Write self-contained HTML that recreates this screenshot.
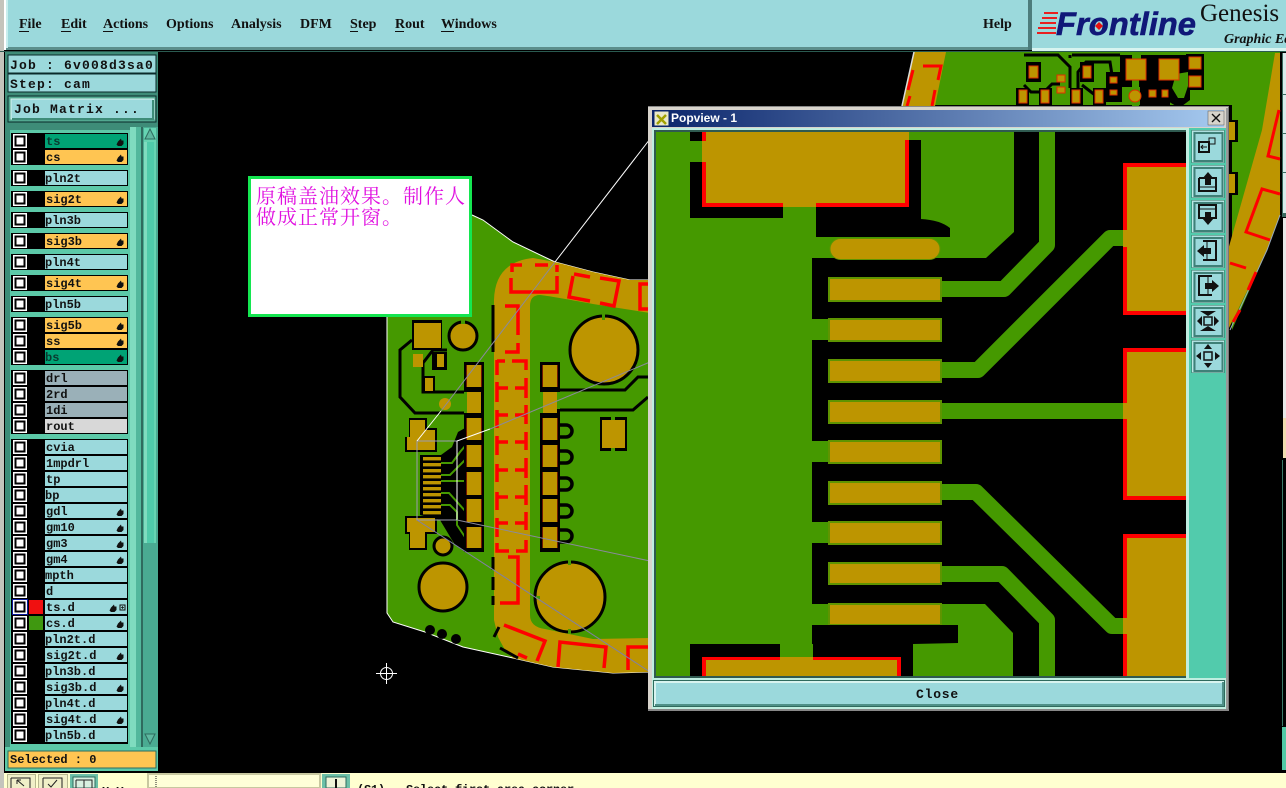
<!DOCTYPE html>
<html><head><meta charset="utf-8"><title>Genesis Popview</title>
<style>
html,body{margin:0;padding:0;background:#000;width:1286px;height:788px;overflow:hidden}
svg{display:block}
.m{font:bold 14px "Liberation Serif",serif;fill:#111}
.l{font:bold 12px "Liberation Mono",monospace;fill:#111;letter-spacing:.0px}
.j{font:bold 13px "Liberation Mono",monospace;fill:#111;letter-spacing:1.2px}
.n{font:20px "Noto Serif CJK SC","WenQuanYi Zen Hei",serif;fill:#e010e0;letter-spacing:1px}
</style></head><body>
<svg xmlns="http://www.w3.org/2000/svg" width="1286" height="788" viewBox="0 0 1286 788">
<defs>
<g id="cb"><rect x="-7" y="-7" width="14" height="14" fill="#fff"/><rect x="-4.5" y="-4.5" width="9" height="9" fill="none" stroke="#000" stroke-width="2"/></g>
<path id="h" d="M-3.5 2.5L-2 -.5L1 -3.5L1.5 -1.5L3.5 -1.5L3.5 2L1.5 4L-2 4Z" fill="#111"/>
<linearGradient id="tg" x1="0" x2="1" y1="0" y2="0"><stop offset="0" stop-color="#0a246a"/><stop offset="1" stop-color="#a6caf0"/></linearGradient>
<g id="tb"><rect x="0" y="0" width="33" height="33" fill="#2f6b5e"/><rect x="1" y="1" width="31" height="31" fill="#9bd9dc" stroke="#bfe8e4" stroke-width="1"/><rect x="3" y="3" width="28" height="28" fill="none" stroke="#3f8078" stroke-width="2"/></g>
</defs>
<rect width="1286" height="788" fill="#000"/>

<!-- Main board, left section -->
<path d="M387 300L387 613L393 622L425 632L463 647L513 658L553 667L613 673L660 672L660 280L630 280L593 272L555 262L513 242L483 220L473 215L440 200Z" fill="#459900"/>
<path d="M387 317L387 613L393 622L425 632L463 647L513 658L553 667L613 673L650 672" fill="none" stroke="#fff"/>
<path d="M472 215L483 220L513 242L555 262L593 272L630 280L650 280" fill="none" stroke="#fff"/>
<!-- gold strip -->
<path d="M494 640L494 300Q495 262 533 258L555 262L593 272L630 280L650 280L650 313L593 304Q550 296 540 295Q530 295 530 306L530 615Q530 627 545 629L593 639L650 638L650 672L613 673L553 667L513 658L505 650L498 637L494 620Z" fill="#bd9500"/>
<g fill="none" stroke="#f00" stroke-width="3.5">
<path d="M511 278V292H557V276M557 272V265M548 265H535M522 265H512V272"/>
<path d="M573 276L569 297L590 301M600 303L614 306L619 281L600 278M590 277L574 274"/>
<path d="M648 284H640V309H648"/>
<path d="M505 306H518V335M518 343V352H505M494 352"/>
<path d="M497 360V375M497 382V402M497 410V428M497 436V455M497 464V482M497 492V510M497 518V537M497 543V551H509M516 551H526V540M526 530V512M526 505V485M526 478V458M526 450V432M526 424V405M526 398V378M526 370V361H512M505 361H497"/>
<path d="M497 388H508M515 388H526M497 415H508M515 415H526M497 442H508M515 442H526M497 470H508M515 470H526M497 497H508M515 497H526M497 523H508M515 523H526"/>
<path d="M508 557H518V603H500"/>
<path d="M504 625L545 641L537 661M518 654L527 658"/>
<path d="M558 667L560 642L606 647L604 668"/>
<path d="M648 647H628V670"/>
</g>
<g fill="none" stroke="#000" stroke-width="3">
<path d="M493 305V352M493 557V570M493 577V590M493 596V605"/>
<path d="M499 627L494 637M500 648L518 658"/>
<path d="M412 340L400 350V397L415 413H467"/>
<path d="M447 350H433L423 363V392H467"/>
<path d="M557 390H625L638 377H648M557 410H633L648 397"/>
</g>
<!-- circles -->
<g stroke="#000" stroke-width="3">
<circle cx="604" cy="350" r="34" fill="#bd9500"/>
<circle cx="570" cy="597" r="35" fill="#bd9500"/>
<circle cx="443" cy="587" r="24" fill="#bd9500"/>
<circle cx="463" cy="336" r="14" fill="#bd9500"/>
<circle cx="443" cy="546" r="9" fill="#bd9500"/>
</g>
<g fill="#459900"><rect x="602" y="314" width="3" height="6"/><rect x="568" y="560" width="3" height="5"/><rect x="568" y="629" width="3" height="5"/><rect x="461" y="320" width="4" height="4"/><rect x="536" y="596" width="4" height="3"/></g>
<circle cx="445" cy="404" r="6" fill="#bd9500"/>
<!-- small pads -->
<rect x="412" y="320" width="30" height="30" fill="#000"/><rect x="414" y="323" width="27" height="25" fill="#bd9500"/>
<rect x="413" y="354" width="10" height="13" fill="#bd9500"/>
<rect x="432" y="352" width="15" height="18" fill="#000"/><rect x="437" y="354" width="7" height="13" fill="#bd9500"/>
<rect x="423" y="376" width="12" height="17" fill="#000"/><rect x="425" y="378" width="8" height="13" fill="#bd9500"/>
<rect x="600" y="417" width="27" height="34" fill="#000"/><rect x="602" y="420" width="23" height="28" fill="#bd9500"/>
<rect x="611" y="417" width="4" height="3" fill="#459900"/><rect x="611" y="448" width="4" height="3" fill="#459900"/>
<!-- connector area black -->
<path d="M420 455H441L452 447L458 432L465 428V552L455 545L440 520L420 515Z" fill="#000"/>
<g fill="none" stroke="#459900" stroke-width="2"><path d="M441 463H452L460 452L466 445M441 475H450L467 458M441 481H467M441 493H449L467 513M441 505H450L457 512V525L467 540"/></g>
<g fill="#bd9500"><rect x="423" y="457" width="18" height="3.4"/><rect x="423" y="463" width="18" height="3.4"/><rect x="423" y="469" width="18" height="3.4"/><rect x="423" y="475" width="18" height="3.4"/><rect x="423" y="481" width="18" height="3.4"/><rect x="423" y="487" width="18" height="3.4"/><rect x="423" y="493" width="18" height="3.4"/><rect x="423" y="499" width="18" height="3.4"/><rect x="423" y="505" width="18" height="3.4"/><rect x="423" y="511" width="18" height="3.4"/></g>
<path d="M409 418H427V428H437V452H405V437H409Z" fill="#000"/>
<path d="M405 516H437V534H427V550H409V534H405Z" fill="#000"/>
<path d="M410 420H425V430H435V450H407V437H410Z" fill="#bd9500"/>
<path d="M407 518H435V532H425V548H410V532H407Z" fill="#bd9500"/>
<!-- pad stacks -->
<rect x="464" y="362" width="20" height="190" fill="#000"/>
<rect x="540" y="362" width="20" height="190" fill="#000"/>
<g fill="#459900"><rect x="464" y="392" width="3" height="21"/><rect x="540" y="392" width="3" height="21"/><rect x="557" y="392" width="3" height="17"/></g>
<g fill="#e03000">
<rect x="466.500" y="365" width="15" height="22"/><rect x="466.500" y="418" width="15" height="22"/><rect x="466.500" y="445" width="15" height="22"/><rect x="466.500" y="472" width="15" height="23"/><rect x="466.500" y="499" width="15" height="23"/><rect x="466.500" y="527" width="15" height="21"/>
<rect x="542.500" y="365" width="15" height="22"/><rect x="542.500" y="418" width="15" height="22"/><rect x="542.500" y="445" width="15" height="22"/><rect x="542.500" y="472" width="15" height="23"/><rect x="542.500" y="499" width="15" height="23"/><rect x="542.500" y="527" width="15" height="21"/>
</g>
<g fill="#bd9500">
<rect x="467" y="365" width="14" height="22"/><rect x="467" y="392" width="14" height="21"/><rect x="467" y="418" width="14" height="22"/><rect x="467" y="445" width="14" height="22"/><rect x="467" y="472" width="14" height="23"/><rect x="467" y="499" width="14" height="23"/><rect x="467" y="527" width="14" height="21"/>
<rect x="543" y="365" width="14" height="22"/><rect x="543" y="392" width="14" height="21"/><rect x="543" y="418" width="14" height="22"/><rect x="543" y="445" width="14" height="22"/><rect x="543" y="472" width="14" height="23"/><rect x="543" y="499" width="14" height="23"/><rect x="543" y="527" width="14" height="21"/>
</g>
<g fill="none" stroke="#000" stroke-width="3.5"><path d="M558 425H566A6 6 0 0 1 566 437H558M558 451H566A6 6 0 0 1 566 463H558M558 478H566A6 6 0 0 1 566 490H558M558 505H566A6 6 0 0 1 566 517H558M558 530H566A6 6 0 0 1 566 542H558"/></g>
<g fill="#000"><circle cx="430" cy="630" r="5"/><circle cx="442" cy="634" r="5"/><circle cx="456" cy="639" r="5"/></g>
<!-- zoom lines -->
<g fill="none" stroke-width="1">
<path d="M417 441H457V520H417Z" stroke="#9a9ab0"/>
<path d="M457 441V520" stroke="#fff"/>
<path d="M417 441L441 411" stroke="#fff"/>
<path d="M441 411L555 262" stroke="#8a8a9c"/>
<path d="M555 262L650 139" stroke="#fff"/>
<path d="M457 441L490 429" stroke="#fff"/>
<path d="M490 429L650 362" stroke="#8a8a9c"/>
<path d="M417 520L650 672" stroke="#8080a4"/>
<path d="M457 520L650 561" stroke="#8a8a9c"/>
</g>
<!-- crosshair -->
<g fill="none" stroke="#fff"><circle cx="386.500" cy="673.500" r="6"/><path d="M376 673.500H397M386.500 663V684"/></g>

<!-- Board, top right -->
<path d="M914 52L902 105H1232L1232 330L1267 250L1280 215L1280 52Z" fill="#459900"/>
<path d="M914 52H946L935 106H902Z" fill="#bd9500"/>
<path d="M1275 53L1262 130L1245 190L1228 250V330L1267 250L1280 215V53Z" fill="#bd9500"/>
<path d="M914 52L902 106" fill="none" stroke="#ddd" stroke-width="1.500"/>
<path d="M1280 215L1267 250L1230 330" fill="none" stroke="#9ab" stroke-width="1"/>
<g fill="none" stroke="#f00" stroke-width="3">
<path d="M923 66H941L938 80M935 90L932 106M913 70L908 90M910 96L907 106"/>
<path d="M1279 110L1273 135L1268 156L1280 159"/>
<path d="M1280 194L1262 189L1246 232L1270 240"/>
<path d="M1230 263L1246 268M1256 272L1248 290M1240 310L1233 322"/>
</g>
<g fill="none" stroke="#000" stroke-width="3">
<path d="M1024 55H1058L1070 67V88M1070 55V58M1024 85L1031 92H1044L1052 84H1060M1078 88V72L1086 62H1110L1112 75M1082 85L1095 95M1072 55H1120"/>
</g>
<g fill="#000"><rect x="1016" y="88" width="13" height="17"/><rect x="1039" y="88" width="13" height="17"/><rect x="1070" y="88" width="13" height="17"/><rect x="1093" y="88" width="13" height="17"/><rect x="1026" y="62" width="15" height="20"/><rect x="1080" y="62" width="14" height="20"/></g>
<rect x="1120" y="55" width="67" height="32" fill="#000"/>
<rect x="1106" y="72" width="16" height="30" fill="#000"/>
<rect x="1140" y="85" width="30" height="20" fill="#000"/>
<path d="M1186 54H1204V90H1190V100L1182 106H1176L1166 100V84H1178V62H1186Z" fill="#000"/>
<path d="M1176 74L1188 72V86L1184 98H1178L1172 88Z" fill="#459900"/>
<rect x="1132" y="53" width="9" height="7" fill="#459900"/><rect x="1132" y="80" width="7" height="26" fill="#459900"/>
<g fill="#bd9500" stroke="#e03000" stroke-width="1">
<rect x="1126" y="59" width="20" height="21"/><rect x="1159" y="59" width="20" height="21"/><rect x="1189" y="57" width="12" height="12"/><rect x="1189" y="76" width="12" height="11"/>
<rect x="1029" y="66" width="9" height="12"/><rect x="1083" y="66" width="8" height="12"/><rect x="1057" y="75" width="8" height="7"/><rect x="1057" y="87" width="8" height="6"/><rect x="1110" y="77" width="7" height="6"/><rect x="1110" y="90" width="7" height="5"/>
<rect x="1019" y="90" width="8" height="13"/><rect x="1041" y="90" width="8" height="13"/><rect x="1072" y="90" width="8" height="13"/><rect x="1095" y="90" width="8" height="13"/>
<circle cx="1135" cy="96" r="6"/><rect x="1149" y="90" width="7" height="7"/><rect x="1162" y="90" width="6" height="7"/>
</g>
<path d="M1228 120H1238V142H1228ZM1228 172H1238V195H1228Z" fill="#000"/>
<path d="M1228 122H1235V140H1228ZM1228 174H1235V193H1228Z" fill="#bd9500"/>

<!-- Annotation -->
<rect x="249.500" y="177.500" width="221" height="138" fill="#fff" stroke="#14e650" stroke-width="3"/>
<text class="n" x="256" y="203">原稿盖油效果。制作人</text>
<text class="n" x="256" y="224">做成正常开窗。</text>

<!-- Top bars -->
<rect x="0" y="0" width="4" height="788" fill="#c4c4bc"/>
<rect x="4" y="0" width="2" height="50" fill="#fff"/>
<rect x="6" y="0" width="1022" height="49" fill="#9bd9dc"/>
<rect x="6" y="47" width="1022" height="3" fill="#5c8f8c"/>
<rect x="6" y="0" width="2" height="48" fill="#c8eeee"/>
<rect x="1028" y="0" width="4" height="50" fill="#4c7c7c"/>
<rect x="1032" y="0" width="254" height="50" fill="#9bd9dc"/>
<rect x="1032" y="48" width="254" height="3" fill="#d8f4f0"/>
<rect x="0" y="51" width="1286" height="1" fill="#2a5a50"/>
<text class="m" x="19" y="28">File</text><rect x="19" y="31" width="10" height="1" fill="#111"/>
<text class="m" x="61" y="28">Edit</text><rect x="61" y="31" width="10" height="1" fill="#111"/>
<text class="m" x="103" y="28">Actions</text><rect x="103" y="31" width="10" height="1" fill="#111"/>
<text class="m" x="166" y="28">Options</text>
<text class="m" x="231" y="28">Analysis</text>
<text class="m" x="300" y="28">DFM</text>
<text class="m" x="350" y="28">Step</text><rect x="350" y="31" width="8" height="1" fill="#111"/>
<text class="m" x="395" y="28">Rout</text><rect x="395" y="31" width="9" height="1" fill="#111"/>
<text class="m" x="441" y="28">Windows</text><rect x="441" y="31" width="13" height="1" fill="#111"/>
<text class="m" x="983" y="28">Help</text>
<!-- Logo -->
<g fill="#e82020"><rect x="1044" y="12" width="14" height="2"/><rect x="1042" y="17" width="15" height="2"/><rect x="1040" y="22" width="16" height="2"/><rect x="1038" y="27" width="18" height="2"/><rect x="1037" y="32" width="19" height="2"/></g>
<text x="1056" y="35" font-family="Liberation Sans,sans-serif" font-weight="bold" font-style="italic" font-size="32" fill="#101878" stroke="#101878" stroke-width=".6" textLength="140" lengthAdjust="spacingAndGlyphs">Frontline</text>
<path d="M1099 22L1103 26L1099 30L1095 26Z" fill="#e81010"/>
<text x="1200" y="21" font-family="Liberation Serif,serif" font-size="25" fill="#111">Genesis</text>
<text x="1224" y="43" font-family="Liberation Serif,serif" font-weight="bold" font-style="italic" font-size="14" fill="#111">Graphic Ed</text>

<!-- Right edge -->
<rect x="1282" y="53" width="4" height="164" fill="#d8ecec"/>
<g fill="#3a6a60"><rect x="1282" y="53" width="1" height="164"/><rect x="1282" y="94" width="4" height="1"/><rect x="1282" y="133" width="4" height="1"/><rect x="1282" y="172" width="4" height="1"/><rect x="1282" y="213" width="4" height="4"/></g>
<rect x="1283" y="218" width="3" height="200" fill="#e8e8e8"/>
<rect x="1283" y="418" width="3" height="40" fill="#f0dcb0"/>
<rect x="1282" y="460" width="4" height="266" fill="#000"/><rect x="1282" y="460" width="1" height="266" fill="#3a7a68"/>
<rect x="1282" y="727" width="4" height="43" fill="#52c8a5"/>

<!-- Left panel -->
<rect x="5" y="52" width="153" height="719" fill="#3e8c78"/>
<rect x="8" y="55" width="148" height="18" fill="#9bd9dc" stroke="#0a2a2a"/>
<rect x="8" y="74" width="148" height="18" fill="#9bd9dc" stroke="#0a2a2a"/>
<text class="j" x="10" y="69">Job : 6v008d3sa0</text>
<text class="j" x="10" y="88">Step: cam</text>
<rect x="8" y="96" width="148" height="26" fill="#52a890" stroke="#0a2a2a"/>
<rect x="11" y="99" width="143" height="20" fill="#9bd9dc" stroke="#d8f4f0"/>
<rect x="152" y="100" width="2" height="19" fill="#3e8c78"/><rect x="12" y="118" width="142" height="2" fill="#3e8c78"/>
<text class="j" x="14" y="113">Job Matrix ...</text>
<!-- List bg -->
<rect x="5" y="126" width="153" height="622" fill="#3e8c78"/>
<rect x="10" y="130" width="120" height="617" fill="#5cc9a8"/>
<rect x="130" y="127" width="6" height="621" fill="#7fdcbf"/>
<rect x="136" y="127" width="5" height="621" fill="#52b89c"/>
<rect x="141" y="127" width="2" height="621" fill="#2f6b5e"/>
<rect x="143" y="127" width="15" height="621" fill="#4aab92"/>
<rect x="144" y="128" width="12" height="415" fill="#66d4b2"/>
<rect x="147" y="142" width="7" height="401" fill="#4fcbaa"/>
<rect x="144" y="142" width="3" height="401" fill="#7fdcbf"/>
<path d="M145 139L150 129L155 139Z" fill="#5fb8a0" stroke="#2f6b5e"/>
<path d="M145 734L150 744L155 734Z" fill="#5fb8a0" stroke="#2f6b5e"/>
<!-- groups -->
<g fill="#000">
<rect x="11" y="133" width="117" height="32"/><rect x="11" y="170" width="117" height="16"/><rect x="11" y="191" width="117" height="16"/><rect x="11" y="212" width="117" height="16"/><rect x="11" y="233" width="117" height="16"/><rect x="11" y="254" width="117" height="16"/><rect x="11" y="275" width="117" height="16"/><rect x="11" y="296" width="117" height="16"/><rect x="11" y="317" width="117" height="48"/><rect x="11" y="370" width="117" height="64"/><rect x="11" y="439" width="117" height="305"/>
</g>
<!-- labels backgrounds -->
<g fill="#9bd9dc">
<rect x="45" y="171" width="82" height="14"/><rect x="45" y="213" width="82" height="14"/><rect x="45" y="255" width="82" height="14"/><rect x="45" y="297" width="82" height="14"/>
<rect x="45" y="440" width="82" height="14"/><rect x="45" y="456" width="82" height="14"/><rect x="45" y="472" width="82" height="14"/><rect x="45" y="488" width="82" height="14"/><rect x="45" y="504" width="82" height="14"/><rect x="45" y="520" width="82" height="14"/><rect x="45" y="536" width="82" height="14"/><rect x="45" y="552" width="82" height="14"/><rect x="45" y="568" width="82" height="14"/><rect x="45" y="584" width="82" height="14"/><rect x="45" y="600" width="82" height="14"/><rect x="45" y="616" width="82" height="14"/><rect x="45" y="632" width="82" height="14"/><rect x="45" y="648" width="82" height="14"/><rect x="45" y="664" width="82" height="14"/><rect x="45" y="680" width="82" height="14"/><rect x="45" y="696" width="82" height="14"/><rect x="45" y="712" width="82" height="14"/><rect x="45" y="728" width="82" height="14"/>
</g>
<g fill="#ffc552">
<rect x="45" y="150" width="82" height="14"/><rect x="45" y="192" width="82" height="14"/><rect x="45" y="234" width="82" height="14"/><rect x="45" y="276" width="82" height="14"/><rect x="45" y="318" width="82" height="14"/><rect x="45" y="334" width="82" height="14"/>
</g>
<g fill="#00a375"><rect x="45" y="134" width="82" height="14"/><rect x="45" y="350" width="82" height="14"/></g>
<g fill="#9ab0b8"><rect x="45" y="371" width="82" height="14"/><rect x="45" y="387" width="82" height="14"/><rect x="45" y="403" width="82" height="14"/></g>
<rect x="45" y="419" width="82" height="14" fill="#d8d8d8"/>
<rect x="29" y="600" width="14" height="14" fill="#f01010"/><rect x="29" y="616" width="14" height="14" fill="#3f9810"/>
<rect x="12" y="599" width="16" height="16" fill="#0a1a9a"/>
<!-- checkboxes -->
<use href="#cb" x="20" y="141"/><use href="#cb" x="20" y="157"/><use href="#cb" x="20" y="178"/><use href="#cb" x="20" y="199"/><use href="#cb" x="20" y="220"/><use href="#cb" x="20" y="241"/><use href="#cb" x="20" y="262"/><use href="#cb" x="20" y="283"/><use href="#cb" x="20" y="304"/><use href="#cb" x="20" y="325"/><use href="#cb" x="20" y="341"/><use href="#cb" x="20" y="357"/><use href="#cb" x="20" y="378"/><use href="#cb" x="20" y="394"/><use href="#cb" x="20" y="410"/><use href="#cb" x="20" y="426"/><use href="#cb" x="20" y="447"/><use href="#cb" x="20" y="463"/><use href="#cb" x="20" y="479"/><use href="#cb" x="20" y="495"/><use href="#cb" x="20" y="511"/><use href="#cb" x="20" y="527"/><use href="#cb" x="20" y="543"/><use href="#cb" x="20" y="559"/><use href="#cb" x="20" y="575"/><use href="#cb" x="20" y="591"/><use href="#cb" x="20" y="607"/><use href="#cb" x="20" y="623"/><use href="#cb" x="20" y="639"/><use href="#cb" x="20" y="655"/><use href="#cb" x="20" y="671"/><use href="#cb" x="20" y="687"/><use href="#cb" x="20" y="703"/><use href="#cb" x="20" y="719"/><use href="#cb" x="20" y="735"/>
<!-- hand icons -->
<use href="#h" x="120" y="142"/><use href="#h" x="120" y="158"/><use href="#h" x="120" y="200"/><use href="#h" x="120" y="242"/><use href="#h" x="120" y="284"/><use href="#h" x="120" y="326"/><use href="#h" x="120" y="342"/><use href="#h" x="120" y="358"/><use href="#h" x="120" y="512"/><use href="#h" x="120" y="528"/><use href="#h" x="120" y="544"/><use href="#h" x="120" y="560"/><use href="#h" x="113" y="608"/><use href="#h" x="120" y="624"/><use href="#h" x="120" y="656"/><use href="#h" x="120" y="688"/><use href="#h" x="120" y="720"/>
<rect x="120" y="605" width="5" height="5" fill="none" stroke="#111"/><path d="M122.500 606V609M121 607.500H124" stroke="#111" stroke-width=".7"/>
<!-- labels -->
<text class="l" x="46" y="145" style="fill:#0a3a30">ts</text><text class="l" x="46" y="161">cs</text><text class="l" x="45" y="182">pln2t</text><text class="l" x="46" y="203">sig2t</text><text class="l" x="45" y="224">pln3b</text><text class="l" x="46" y="245">sig3b</text><text class="l" x="45" y="266">pln4t</text><text class="l" x="46" y="287">sig4t</text><text class="l" x="45" y="308">pln5b</text><text class="l" x="46" y="329">sig5b</text><text class="l" x="46" y="345">ss</text><text class="l" x="45" y="361" style="fill:#0a3a30">bs</text><text class="l" x="46" y="382">drl</text><text class="l" x="46" y="398">2rd</text><text class="l" x="46" y="414">1di</text><text class="l" x="46" y="430">rout</text><text class="l" x="46" y="451">cvia</text><text class="l" x="46" y="467">1mpdrl</text><text class="l" x="46" y="483">tp</text><text class="l" x="45" y="499">bp</text><text class="l" x="46" y="515">gdl</text><text class="l" x="46" y="531">gm10</text><text class="l" x="46" y="547">gm3</text><text class="l" x="46" y="563">gm4</text><text class="l" x="45" y="579">mpth</text><text class="l" x="46" y="595">d</text><text class="l" x="46" y="611">ts.d</text><text class="l" x="46" y="627">cs.d</text><text class="l" x="45" y="643">pln2t.d</text><text class="l" x="46" y="659">sig2t.d</text><text class="l" x="45" y="675">pln3b.d</text><text class="l" x="46" y="691">sig3b.d</text><text class="l" x="45" y="707">pln4t.d</text><text class="l" x="46" y="723">sig4t.d</text><text class="l" x="45" y="739">pln5b.d</text>
<!-- Selected -->
<rect x="5" y="747" width="153" height="24" fill="#5cc9a8"/>
<rect x="8" y="751" width="148" height="17" fill="#ffc552" stroke="#2f6b5e"/>
<text class="l" x="10" y="763" style="font-size:12px">Selected : 0</text>

<!-- Bottom bar -->
<rect x="0" y="773" width="1286" height="15" fill="#ffffd0"/>
<rect x="0" y="773" width="4" height="15" fill="#c4c4bc"/>
<g fill="#f0efc8" stroke="#b8b890"><rect x="7.500" y="774.500" width="28" height="14"/><rect x="38.500" y="774.500" width="29" height="14"/></g>
<rect x="70" y="774" width="28" height="14" fill="#6cc0a8"/><rect x="73" y="777" width="22" height="11" fill="#d8f0e0" stroke="#2f6b5e"/>
<path d="M11 778H30V788M11 778V788" fill="none" stroke="#222"/><path d="M17 780L24 786M17 780H21M17 780V784" stroke="#222" fill="none"/>
<path d="M43 778H62V788M43 778V788M48 784L51 787L57 780" fill="none" stroke="#222"/>
<path d="M76 780H92V788M76 780V788M84 780V788" fill="none" stroke="#222"/>
<text x="102" y="795" font-family="Liberation Mono,monospace" font-weight="bold" font-size="12" fill="#111">X,Y :</text>
<rect x="148" y="774" width="172" height="14" fill="#ffffd8" stroke="#c8c8a0" stroke-width="2"/>
<path d="M156 776V788" stroke="#222" stroke-dasharray="1 1"/>
<rect x="322" y="774" width="28" height="14" fill="#6cc0a8"/><rect x="326" y="777" width="20" height="11" fill="#eef4d8" stroke="#2f6b5e"/>
<path d="M336 779V788" stroke="#111" stroke-width="2"/>
<text x="357" y="793" font-family="Liberation Mono,monospace" font-weight="bold" font-size="12" fill="#111" letter-spacing="-.2">(S1) - Select first area corner</text>

<!-- Popview window -->
<rect x="648" y="106" width="581" height="605" fill="#d8d4cc"/>
<rect x="648" y="106" width="581" height="1" fill="#888"/>
<rect x="1228" y="106" width="1" height="605" fill="#777"/><rect x="1226" y="108" width="2" height="603" fill="#999"/>
<rect x="648" y="709" width="581" height="2" fill="#888"/>
<rect x="652" y="110" width="572" height="17" fill="url(#tg)"/>
<rect x="654" y="111" width="15" height="15" fill="#e8e8c8" stroke="#0a246a"/>
<path d="M657 115L666 124M666 115L657 124" stroke="#a0a000" stroke-width="2.500"/>
<text x="671" y="122" font-family="Liberation Sans,sans-serif" font-weight="bold" font-size="12" fill="#fff">Popview - 1</text>
<rect x="1208" y="111" width="16" height="14" fill="#d8d4cc" stroke="#555" stroke-width=".5"/>
<path d="M1212 114L1220 122M1220 114L1212 122" stroke="#111" stroke-width="1.400"/>
<rect x="652" y="128" width="574" height="580" fill="#5cc9a8"/>
<rect x="652" y="128" width="537" height="552" fill="#bfeee0"/>
<rect x="654" y="130" width="534" height="548" fill="#2f5a50"/>
<!-- Canvas -->
<svg x="656" y="132" width="530" height="544" viewBox="656 132 530 544">
<rect x="656" y="132" width="530" height="544" fill="#000"/>
<rect x="656" y="132" width="156" height="544" fill="#459900"/>
<rect x="812" y="132" width="110" height="108" fill="#459900"/>
<rect x="690" y="132" width="231" height="86" fill="#000"/>
<rect x="690" y="141" width="14" height="21" fill="#459900"/>
<rect x="905" y="132" width="20" height="8" fill="#459900"/>
<path d="M816 207H921V219Q940 220 950 228V238H816Z" fill="#000"/>
<rect x="783" y="207" width="33" height="32" fill="#459900"/>
<path d="M921 132H1014V232L986 258H812V237H950V228Q940 220 921 219Z" fill="#459900"/>
<!-- top pad -->
<rect x="702" y="132" width="207" height="75" fill="#f00"/>
<rect x="706" y="132" width="199" height="71" fill="#bd9500"/>
<rect x="702" y="141" width="4" height="21" fill="#bd9500"/>
<rect x="783" y="203" width="33" height="4" fill="#bd9500"/>
<rect x="905" y="132" width="4" height="8" fill="#bd9500"/>
<!-- oval -->
<rect x="830" y="238.500" width="110" height="21" rx="10.500" fill="#bd9500" stroke="#5f9400"/>
<!-- traces -->
<g fill="none" stroke="#459900" stroke-width="16" stroke-linejoin="round">
<path d="M935 289H1004L1047 245V130"/>
<path d="M935 370H978L1110 238H1130"/>
<path d="M935 411H1130"/>
<path d="M935 492H976L1112 626H1130"/>
<path d="M935 574H1002L1047 620V680"/>
</g>
<path d="M935 604H985L1013 633V676H913V644L958 643V625H935Z" fill="#459900"/>
<!-- stubs -->
<g fill="#459900"><rect x="812" y="319" width="20" height="21"/><rect x="812" y="441" width="20" height="21"/><rect x="812" y="522" width="20" height="21"/><rect x="812" y="604" width="20" height="21"/></g>
<!-- fingers -->
<g fill="#bd9500" stroke="#5f9400" stroke-width="2">
<rect x="829" y="278" width="112" height="23"/><rect x="829" y="319" width="112" height="22"/><rect x="829" y="360" width="112" height="22"/><rect x="829" y="401" width="112" height="22"/><rect x="829" y="441" width="112" height="22"/><rect x="829" y="482" width="112" height="22"/><rect x="829" y="522" width="112" height="22"/><rect x="829" y="563" width="112" height="21"/><rect x="829" y="604" width="112" height="21"/>
</g>
<!-- bottom -->
<rect x="690" y="644" width="90" height="32" fill="#000"/>
<rect x="813" y="625" width="100" height="51" fill="#000"/>
<rect x="813" y="625" width="145" height="18" fill="#000"/>
<rect x="780" y="644" width="33" height="32" fill="#459900"/>
<rect x="702" y="657" width="199" height="19" fill="#f00"/>
<rect x="706" y="660" width="191" height="16" fill="#bd9500"/>
<rect x="780" y="657" width="33" height="4" fill="#bd9500"/>
<!-- right pads -->
<g fill="#f00"><rect x="1123" y="163" width="63" height="152"/><rect x="1123" y="348" width="63" height="152"/><rect x="1123" y="534" width="63" height="142"/></g>
<g fill="#bd9500"><rect x="1127" y="167" width="59" height="144"/><rect x="1127" y="352" width="59" height="144"/><rect x="1127" y="538" width="59" height="138"/><rect x="1123" y="230" width="5" height="17"/><rect x="1123" y="403" width="5" height="16"/><rect x="1123" y="618" width="5" height="16"/></g>
</svg>
<rect x="1186" y="130" width="3" height="548" fill="#bfeee0"/>
<rect x="1189" y="128" width="37" height="550" fill="#52cbac"/>
<!-- toolbar -->
<use href="#tb" x="1191.500" y="130"/><use href="#tb" x="1191.500" y="165"/><use href="#tb" x="1191.500" y="200"/><use href="#tb" x="1191.500" y="235"/><use href="#tb" x="1191.500" y="270"/><use href="#tb" x="1191.500" y="305"/><use href="#tb" x="1191.500" y="340"/>
<g fill="none" stroke="#111" stroke-width="1.500">
<rect x="1199" y="142" width="10" height="10" stroke-width="2"/><path d="M1201 147H1207M1203 145L1201 147L1203 149" stroke-width="1"/><rect x="1209" y="138" width="6" height="6" stroke-width="1"/>
<path d="M1199 178V191H1216V178H1212M1204 178H1199" stroke-width="2"/><path d="M1199 187H1216" stroke-width="1"/>
<path d="M1199 205H1216V218H1199Z" stroke-width="2"/><path d="M1199 209H1216" stroke-width="1"/>
<path d="M1203 241H1216V260H1203" stroke-width="2"/><path d="M1207 241V260" stroke-width="1"/>
<path d="M1212 276H1199V295H1212" stroke-width="2"/><path d="M1208 276V295" stroke-width="1"/>
<rect x="1204" y="317" width="8" height="8"/><rect x="1204" y="352" width="8" height="8"/>
</g>
<g fill="#111">
<path d="M1208 172L1202 179H1214Z"/><rect x="1205" y="178" width="6" height="7"/>
<path d="M1208 225L1202 218H1214Z"/><rect x="1205" y="212" width="6" height="7"/>
<path d="M1197 251L1204 245V257Z"/><rect x="1203" y="248" width="8" height="6"/>
<path d="M1219 286L1212 280V292Z"/><rect x="1205" y="283" width="8" height="6"/>
<path d="M1197 321L1202 316V326ZM1219 321L1214 316V326ZM1200 311H1216L1208 316ZM1200 331H1216L1208 326Z"/>
<path d="M1196 356L1201 352V360ZM1220 356L1215 352V360ZM1208 344L1204 349H1212ZM1208 368L1204 363H1212Z"/>
</g>
<!-- Close -->
<rect x="652" y="678" width="574" height="31" fill="#bfeee0"/>
<rect x="653" y="680" width="572" height="27" fill="#2f6b5e"/>
<rect x="654" y="681" width="570" height="25" fill="#d8f4f0"/>
<rect x="656" y="683" width="566" height="21" fill="#9bd9dc"/>
<rect x="655" y="704" width="569" height="2" fill="#4f9088"/><rect x="1222" y="682" width="2" height="24" fill="#4f9088"/>
<text x="916" y="698" font-family="Liberation Mono,monospace" font-weight="bold" font-size="13" fill="#111" letter-spacing=".8">Close</text>
</svg>
</body></html>
